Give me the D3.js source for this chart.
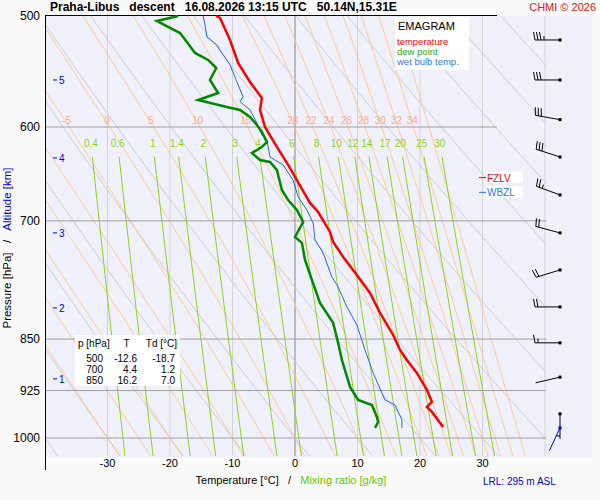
<!DOCTYPE html>
<html><head><meta charset="utf-8">
<script src="https://cdn.jsdelivr.net/npm/d3@7"></script>
<style>body{margin:0;background:#fafafa}text{font-family:"Liberation Sans",Arial,sans-serif}</style>
</head><body><svg width="600" height="500"></svg>
<script>
// sounding data (pressure hPa, temperature degC)
const tempP = [500,501.6,520.1,540.1,557.2,572.1,583.4,600,620,638.6,654.6,679.7,689.9,712.9,724.7,742.7,765,788,814.3,844.3,865.3,879.7,898.6,924,942.5,950.2,958,981.9];
const tempT = [-12.6,-12,-10.4,-9.1,-7.2,-5.3,-5.6,-4.8,-2.9,-1.1,0.3,2.4,3.7,5.6,6.1,7.7,9.9,12,13.6,15.7,16.8,17.9,19.5,21.1,21.9,21.1,21.9,23.7];
const dewP = [500,504.1,509.9,514.2,521.8,531.3,537.4,544.6,555.4,567.4,574,580.6,583.4,590.2,598,604.9,615,620,626.2,633.4,635.4,643.8,665.4,676.4,687.6,701.3,718.7,725.8,746.4,771.3,801,827.7,855.3,879.7,919.5,939.4,947.2,966,974,983.5];
const dewT = [-18.7,-22.1,-20,-18.4,-17.3,-16,-13.9,-12.6,-13.6,-12.3,-15.5,-10.9,-8.8,-7.2,-6.1,-5.3,-4.5,-5.3,-6.9,-5.6,-4,-2.9,-2.1,-1.1,0.3,1.3,0,1.1,1.6,2.7,4,6.1,6.9,7.5,8.8,10.1,12.3,13.1,13.3,12.8];
const wetP = [500,507.4,517.5,524.4,531.3,541.7,557.2,571,575.6,583.4,596,607.9,612.9,630.3,638.6,654.6,673,687.6,702.4,722.3,737.9,767.6,780.3,806.3,830.5,865.3,898.6,939.4,947.2,970.7,983.5];
const wetT = [-14.7,-14.4,-14.1,-12.5,-11.7,-10.4,-9.3,-8.3,-8.8,-7.2,-6.1,-5.3,-4.5,-4,-1.9,-0.3,0.5,1.9,2.9,3.2,4.5,5.9,6.9,8.3,9.9,11.2,12.5,14.4,16,17.1,17.1];
// wind
const windP = [520.1,555.4,592.8,630.3,670.8,714,758.8,806.3,855.3,904.9,961.1];
const windDir = [270,270,280,288,290,285,253,270,270,257,180];
const windKt = [35,30,30,30,25,20,20,20,15,2,5];
const surfWindP = 983.5, surfWindDir = 205;
// axes
const pressureTicks = [500,600,700,850,925,1000];
const tempTicks = [-30,-20,-10,0,10,20,30];
const altKm = [1,2,3,4,5];
const altP = [907.4,807.6,714,631.3,555.4];
const mixRatios = [0.4,0.6,1,1.4,2,3,4,6,8,10,12,14,17,20,25,30];
const moistThetaW = [-30,-25,-20,-15,-10,-5,0,5,10,15,20,22,24,26,28,30,32,34,36];
const moistLabels = [-5,0,5,10,15,20,22,24,26,28,30,32,34];
const dryTheta = d3.range(-40,141,10);
const tableRows = [["500","-12.6","-18.7"],["700","4.4","1.2"],["850","16.2","7.0"]];
const fzlvP = 652, wbzlP = 668;

const svg = d3.select("svg");
const L = 46, R = 546, T0 = 16, B = 456;
const x = d3.scaleLinear().domain([0,10]).range([295,357.5]);
const y = d3.scaleLog().domain([500,1000]).range([16,438]);

svg.append("rect").attr("x",L).attr("y",T0).attr("width",592-L).attr("height",B+1-T0).attr("fill","#f0f0fb");
svg.append("clipPath").attr("id","c").append("rect").attr("x",L).attr("y",T0).attr("width",R-L).attr("height",B-T0);
const g = svg.append("g").attr("clip-path","url(#c)");

// thermodynamics
const es = t => 6.112*Math.exp(17.67*t/(t+243.5));
const rs = (t,p) => 0.622*es(t)/(p-es(t));
function moist(tw){
  const out=[]; const Rd=287, cp=1005, Lv=2.5e6, eps=0.622;
  const step=(t,p,dp)=>{const T=t+273.15, r=rs(t,p);
    const dT=(Rd*T+Lv*r)/(p*(cp+Lv*Lv*r*eps/(Rd*T*T)));return t+dT*dp;};
  let t=tw; for(let p=1000;p<=1060;p+=2){out.push([p,t]);t=step(t,p,2);}
  t=tw; const up=[]; for(let p=1000;p>=490;p-=2){up.push([p,t]);t=step(t,p,-2);}
  return up.reverse().concat(out.slice(1));
}
const line = d3.line().x(d=>x(d[1])).y(d=>y(d[0]));

// isotherms
g.selectAll(".iso").data(d3.range(-40,41,10)).join("line")
  .attr("x1",d=>x(d)).attr("x2",d=>x(d)).attr("y1",T0).attr("y2",B)
  .attr("stroke",d=>d===0?"#999":"#d4d4d4").attr("stroke-width",d=>d===0?1.2:1);
// dry adiabats
g.selectAll(".dry").data(dryTheta).join("path").attr("fill","none").attr("stroke","#cfcfcf")
  .attr("d",th=>line(d3.range(490,1061,10).map(p=>[p,(th+273.15)*Math.pow(p/1000,0.2857)-273.15])));
// moist adiabats
g.selectAll(".moist").data(moistThetaW).join("path").attr("fill","none").attr("stroke","#ffc784").attr("stroke-width",0.9)
  .attr("d",tw=>line(moist(tw)));
// mixing ratio
const tdOf=(w,p)=>{const e=w*p/(622+w);const l=Math.log(e/6.112);return 243.5*l/(17.67-l);};
g.selectAll(".mix").data(mixRatios).join("path").attr("fill","none").attr("stroke","#8ed41c")
  .attr("d",w=>line(d3.range(630,1061,10).map(p=>[p,tdOf(w,p)])));

// pressure lines
svg.append("line").attr("x1",L).attr("x2",497).attr("y1",15.5).attr("y2",15.5).attr("stroke","#000");
svg.selectAll(".pl").data(pressureTicks.slice(1)).join("line")
  .attr("x1",L).attr("x2",d=>d===600?497:R).attr("y1",d=>y(d)).attr("y2",d=>y(d)).attr("stroke","#a0a0a0");
svg.append("line").attr("x1",L-0.5).attr("x2",L-0.5).attr("y1",15).attr("y2",470).attr("stroke","#000");

// labels on thermo lines
svg.selectAll(".ml").data(moistLabels).join("text").attr("x",tw=>{const m=moist(tw).find(d=>d[0]===596);return x(m[1]);})
  .attr("y",124).attr("text-anchor","middle").attr("font-size",10).attr("fill","#ffaa90").text(d=>d);
svg.selectAll(".wl").data(mixRatios).join("text").attr("x",w=>x(tdOf(w,616)))
  .attr("y",147).attr("text-anchor","middle").attr("font-size",10).attr("fill","#8ed41c").text(d=>d);

// profiles
const toPts=(P,Tv)=>P.map((p,i)=>[p,Tv[i]]);
svg.append("path").attr("d",line(toPts(wetP,wetT))).attr("fill","none").attr("stroke","#2266ee").attr("stroke-width",1);
svg.append("path").attr("d",line(toPts(dewP,dewT))).attr("fill","none").attr("stroke","#008800").attr("stroke-width",2.5);
svg.append("path").attr("d",line(toPts(tempP,tempT))).attr("fill","none").attr("stroke","#ff0000").attr("stroke-width",2.5);

// axes text
svg.selectAll(".pt").data(pressureTicks).join("text").attr("x",40).attr("y",d=>y(d)+4)
  .attr("text-anchor","end").attr("font-size",12).text(d=>d);
svg.selectAll(".tt").data(tempTicks).join("text").attr("x",d=>x(d)).attr("y",467)
  .attr("text-anchor","middle").attr("font-size",11).text(d=>d);
const alt = svg.selectAll(".alt").data(altKm).join("g");
alt.append("line").attr("x1",53).attr("x2",57).attr("y1",(d,i)=>y(altP[i])).attr("y2",(d,i)=>y(altP[i])).attr("stroke","#0000ee");
alt.append("text").attr("x",59).attr("y",(d,i)=>y(altP[i])+4).attr("font-size",10).attr("fill","#0000ee").text(d=>d);

const yt = svg.append("text").attr("transform","translate(11,248) rotate(-90)").attr("text-anchor","middle")
  .attr("font-size",11.5).attr("xml:space","preserve");
yt.append("tspan").text("Pressure [hPa]   /   ");
yt.append("tspan").attr("fill","#0000ee").text("Altitude [km]");
const xt = svg.append("text").attr("x",291).attr("y",484).attr("text-anchor","middle").attr("font-size",11).attr("xml:space","preserve");
xt.append("tspan").text("Temperature [°C]   /   ");
xt.append("tspan").attr("fill","#66cc00").text("Mixing ratio [g/kg]");
svg.append("text").attr("x",483).attr("y",485).attr("font-size",10).attr("fill","#0000ee").text("LRL: 295 m ASL");

svg.append("text").attr("x",50).attr("y",11).attr("font-size",12).attr("font-weight","bold")
  .attr("xml:space","preserve").text("Praha-Libus   descent   16.08.2026 13:15 UTC   50.14N,15.31E");
svg.append("text").attr("x",596).attr("y",11).attr("text-anchor","end").attr("font-size",11).attr("fill","#ee1111").text("CHMI © 2026");

// legend
svg.append("rect").attr("x",395).attr("y",17).attr("width",74).attr("height",53).attr("fill","#fff");
svg.append("text").attr("x",398).attr("y",30).attr("font-size",11).text("EMAGRAM");
[["temperature","#ff0000"],["dew point","#22aa22"],["wet bulb temp.","#3377ee"]].forEach((d,i)=>
  svg.append("text").attr("x",397).attr("y",45+i*10).attr("font-size",9.5).attr("fill",d[1]).text(d[0]));

// table
svg.append("rect").attr("x",75).attr("y",335).attr("width",105).attr("height",51).attr("fill","#fff");
svg.append("text").attr("x",78).attr("y",347).attr("font-size",10).attr("xml:space","preserve").text("p [hPa]     T      Td [°C]");
tableRows.forEach((r,i)=>[103,137,175].forEach((cx,j)=>
  svg.append("text").attr("x",cx).attr("y",362+i*11).attr("text-anchor","end").attr("font-size",10).text(r[j])));

// freezing levels
[[fzlvP,"FZLV","#ff0000"],[wbzlP,"WBZL","#3377ee"]].forEach(d=>{
  svg.append("rect").attr("x",486).attr("y",y(d[0])-6).attr("width",37).attr("height",11).attr("fill","#fff");
  svg.append("line").attr("x1",479).attr("x2",486).attr("y1",y(d[0])).attr("y2",y(d[0])).attr("stroke",d[2]);
  svg.append("text").attr("x",487).attr("y",y(d[0])+4).attr("font-size",10).attr("fill",d[2]).text(d[1]);
});

// wind barbs
const bx = 560;
function barb(p,dir,kt,col){
  const cy=y(p), a=dir*Math.PI/180, dx=Math.sin(a), dy=-Math.cos(a), len=25;
  const gg=svg.append("g").attr("stroke",col).attr("fill","none");
  gg.append("line").attr("x1",bx).attr("y1",cy).attr("x2",bx+dx*len).attr("y2",cy+dy*len);
  gg.append("rect").attr("x",bx-1.5).attr("y",cy-1.5).attr("width",3).attr("height",3).attr("fill",col).attr("stroke","none");
  let n=Math.round(kt/5), k=0;
  const px=-dy, py=dx; // perpendicular (barb side)
  while(n>=2){const s=len-k*3;gg.append("line").attr("x1",bx+dx*s).attr("y1",cy+dy*s)
      .attr("x2",bx+dx*s+px*8+dx*1.5).attr("y2",cy+dy*s+py*8+dy*1.5);n-=2;k++;}
  if(n===1){const s=len-k*3-(k===0?3:0);gg.append("line").attr("x1",bx+dx*s).attr("y1",cy+dy*s)
      .attr("x2",bx+dx*s+px*4).attr("y2",cy+dy*s+py*4);}
}
windP.forEach((p,i)=>barb(p,windDir[i],windKt[i],"#000"));
barb(surfWindP,surfWindDir,0,"#0000ee");
</script></body></html>
